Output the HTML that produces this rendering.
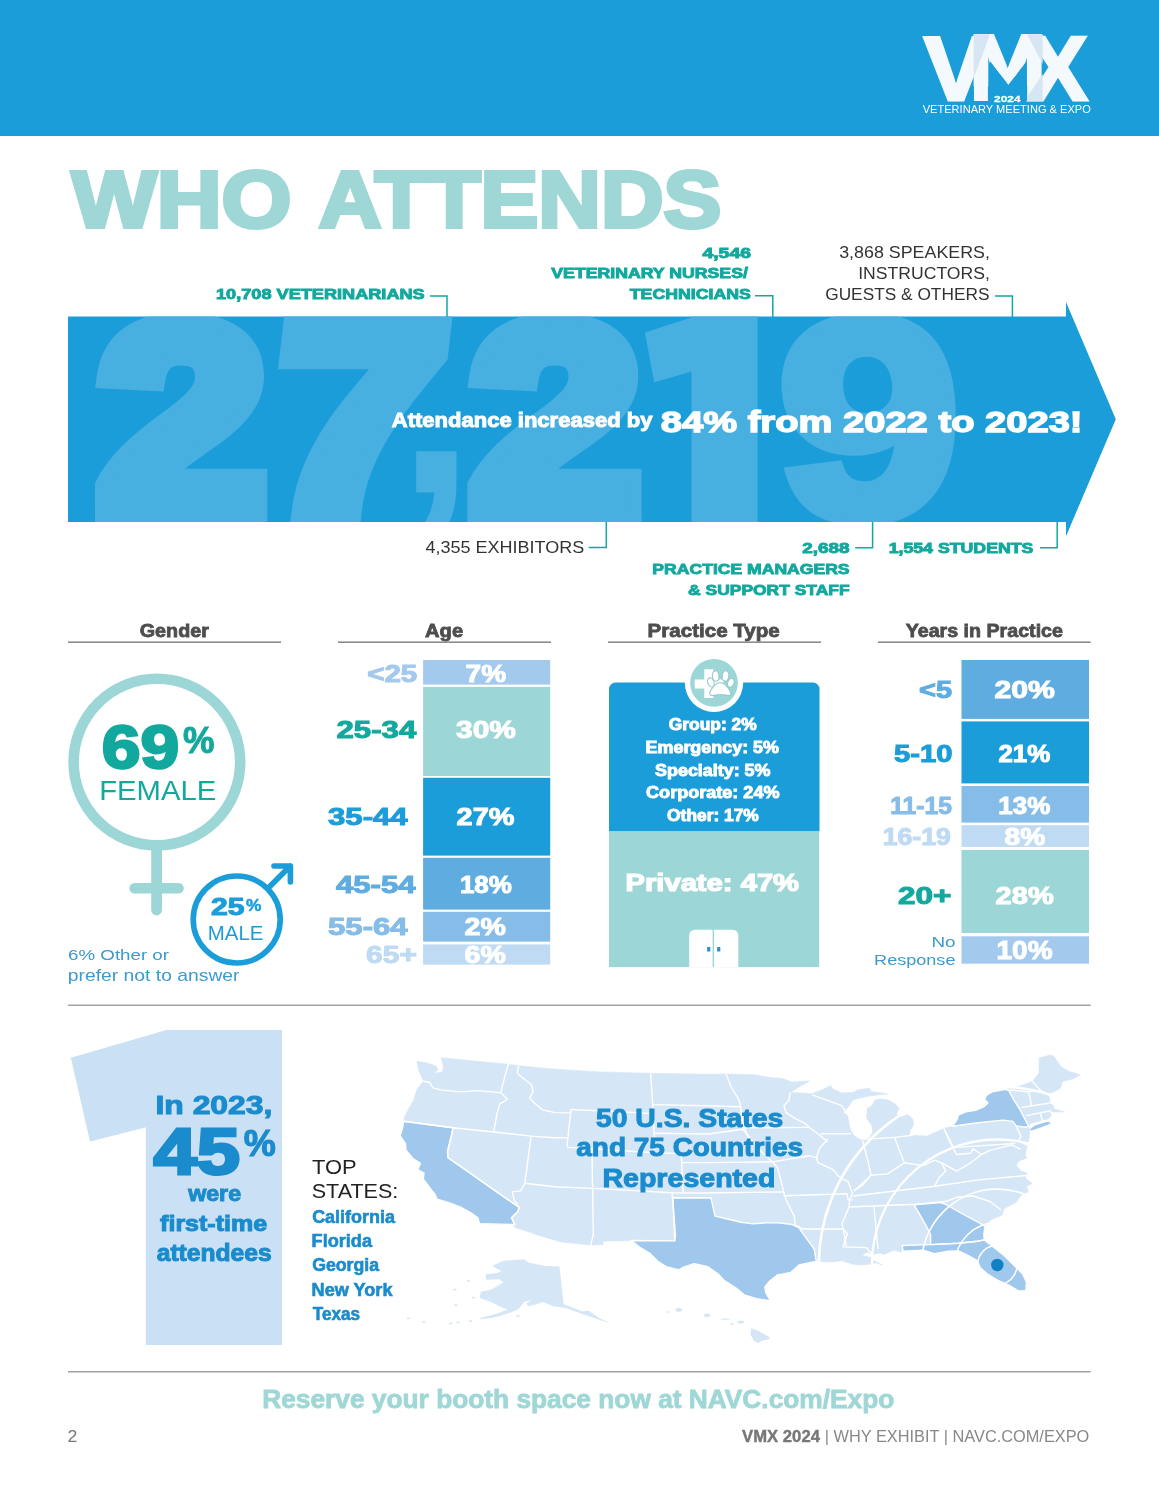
<!DOCTYPE html>
<html lang="en"><head><meta charset="utf-8"><title>VMX 2024 - Who Attends</title>
<style>
html,body{margin:0;padding:0;background:#fff;}
body{width:1159px;height:1500px;overflow:hidden;}
svg{display:block;font-family:"Liberation Sans", Arial, Helvetica, sans-serif;}
text{white-space:pre;}
</style></head><body>
<svg width="1159" height="1500" viewBox="0 0 1159 1500">
<rect x="0.00" y="0.00" width="1159.00" height="136.00" fill="#1A9DD9"/>
<text transform="matrix(1.0514 0 0 1 923.70 99.80)" font-size="91.73" font-weight="700" fill="#F4F9FD" stroke="#F4F9FD" stroke-width="3.00" stroke-linejoin="miter" paint-order="stroke">V</text>
<text transform="matrix(0.9719 0 0 1 1028.20 99.80)" font-size="91.73" font-weight="700" fill="#F4F9FD" stroke="#F4F9FD" stroke-width="3.00" stroke-linejoin="miter" paint-order="stroke">X</text>
<clipPath id="mclip"><polygon points="970,30 1045,30 1045,102 1026.7,102 1026.7,61 1008.4,84.5 990,61 990,102 970,102"/></clipPath>
<g clip-path="url(#mclip)">
<text transform="matrix(1.0007 0 0 1 968.87 100.30)" font-size="93.16" font-weight="700" fill="#F4F9FD" stroke="#F4F9FD" stroke-width="2.00" stroke-linejoin="miter" paint-order="stroke">M</text>
<text transform="matrix(1.3056 0 0 1 968.87 85.00)" font-size="71.40" font-weight="700" fill="#F4F9FD" stroke="#F4F9FD" stroke-width="2.00" stroke-linejoin="miter" paint-order="stroke">M</text>
</g>
<g fill="#D6E6F3"><polygon points="973.7,34.3 990,34.3 973.7,78"/><polygon points="1027,34.3 1042.7,34.3 1042.7,64"/><polygon points="1027,101.2 1042.7,101.2 1042.7,74 1027,97"/></g>
<text transform="matrix(1.2689 0 0 1 994.08 101.65)" font-size="9.39" font-weight="700" fill="#fff" stroke="#fff" stroke-width="0.30" stroke-linejoin="miter" paint-order="stroke">2024</text>
<text transform="matrix(1.0244 0 0 1 922.70 113.30)" font-size="10.81" font-weight="400" fill="#fff">VETERINARY MEETING &amp; EXPO</text>
<text transform="matrix(1.1328 0 0 1 71.80 227.30)" font-size="79.36" font-weight="700" fill="#9ED7D5" stroke="#9ED7D5" stroke-width="4.00" stroke-linejoin="miter" paint-order="stroke">WHO</text>
<text transform="matrix(1.0916 0 0 1 318.65 227.30)" font-size="79.36" font-weight="700" fill="#9ED7D5" stroke="#9ED7D5" stroke-width="4.00" stroke-linejoin="miter" paint-order="stroke">ATTENDS</text>
<text transform="matrix(1.2040 0 0 1 216.02 299.35)" font-size="15.08" font-weight="700" fill="#12A89D" stroke="#12A89D" stroke-width="0.90" stroke-linejoin="miter" paint-order="stroke">10,708 VETERINARIANS</text>
<polyline points="430.0,296.0 447.0,296.0 447.0,317.0" fill="none" stroke="#12A89D" stroke-width="1.5"/>
<text transform="matrix(1.2851 0 0 1 702.45 257.75)" font-size="15.08" font-weight="700" fill="#12A89D" stroke="#12A89D" stroke-width="0.90" stroke-linejoin="miter" paint-order="stroke">4,546</text>
<text transform="matrix(1.2149 0 0 1 551.25 278.35)" font-size="14.57" font-weight="700" fill="#12A89D" stroke="#12A89D" stroke-width="0.90" stroke-linejoin="miter" paint-order="stroke">VETERINARY NURSES/</text>
<text transform="matrix(1.1762 0 0 1 629.75 299.25)" font-size="15.08" font-weight="700" fill="#12A89D" stroke="#12A89D" stroke-width="0.90" stroke-linejoin="miter" paint-order="stroke">TECHNICIANS</text>
<polyline points="755.0,295.7 772.8,295.7 772.8,317.0" fill="none" stroke="#12A89D" stroke-width="1.5"/>
<text transform="matrix(1.1015 0 0 1 839.14 258.20)" font-size="16.21" font-weight="400" fill="#333333">3,868 SPEAKERS,</text>
<text transform="matrix(1.0864 0 0 1 858.22 278.90)" font-size="16.21" font-weight="400" fill="#333333">INSTRUCTORS,</text>
<text transform="matrix(1.0568 0 0 1 825.19 299.60)" font-size="16.36" font-weight="400" fill="#333333">GUESTS &amp; OTHERS</text>
<polyline points="995.0,296.0 1012.4,296.0 1012.4,317.0" fill="none" stroke="#12A89D" stroke-width="1.5"/>
<clipPath id="bandclip"><polygon points="68,316.4 1066,316.4 1066,302.1 1115.8,419.2 1066,536.2 1066,522.1 68,522.1"/></clipPath>
<polygon points="68,316.4 1066,316.4 1066,302.1 1115.8,419.2 1066,536.2 1066,522.1 68,522.1" fill="#1A9DD9"/>
<g clip-path="url(#bandclip)">
<text transform="matrix(1.1280 0 0 1 98.08 511.00)" font-size="267.38" font-weight="700" fill="#48AFE1" stroke="#48AFE1" stroke-width="24.00" stroke-linejoin="miter" paint-order="stroke">2</text>
<text transform="matrix(1.1273 0 -0.116 1 262.08 511.00)" font-size="267.38" font-weight="700" fill="#48AFE1" stroke="#48AFE1" stroke-width="24.00" stroke-linejoin="miter" paint-order="stroke">7</text>
<text transform="matrix(1.0276 0 0 1 396.26 492.60)" font-size="277.76" font-weight="700" fill="#48AFE1">,</text>
<text transform="matrix(1.1407 0 0 1 470.47 511.00)" font-size="267.38" font-weight="700" fill="#48AFE1" stroke="#48AFE1" stroke-width="24.00" stroke-linejoin="miter" paint-order="stroke">2</text>
<text transform="matrix(1.1584 0 0 1 778.31 516.00)" font-size="281.60" font-weight="700" fill="#48AFE1" stroke="#48AFE1" stroke-width="14.00" stroke-linejoin="miter" paint-order="stroke">9</text>
<rect x="691.50" y="311.00" width="66.10" height="212.00" fill="#48AFE1"/>
<clipPath id="oneclip"><rect x="630" y="300" width="62" height="110"/></clipPath>
<g clip-path="url(#oneclip)"><text transform="matrix(3.52376 2.02474 0.86183 4.60568 670.468 584.126)" font-size="100.0" font-weight="700" fill="#48AFE1">1</text></g>
</g>
<text transform="matrix(1.0804 0 0 1 391.76 427.10)" font-size="20.40" font-weight="700" fill="#fff" stroke="#fff" stroke-width="1.00" stroke-linejoin="miter" paint-order="stroke">Attendance increased by</text>
<text transform="matrix(1.2563 0 0 1 660.71 431.90)" font-size="30.37" font-weight="700" fill="#fff" stroke="#fff" stroke-width="1.40" stroke-linejoin="miter" paint-order="stroke">84% from 2022 to 2023!</text>
<text transform="matrix(1.1012 0 0 1 425.52 553.30)" font-size="16.36" font-weight="400" fill="#333333">4,355 EXHIBITORS</text>
<polyline points="588.7,547.6 606.3,547.6 606.3,522.0" fill="none" stroke="#12A89D" stroke-width="1.5"/>
<text transform="matrix(1.2527 0 0 1 802.36 552.85)" font-size="15.08" font-weight="700" fill="#12A89D" stroke="#12A89D" stroke-width="0.90" stroke-linejoin="miter" paint-order="stroke">2,688</text>
<text transform="matrix(1.1550 0 0 1 652.35 573.75)" font-size="15.22" font-weight="700" fill="#12A89D" stroke="#12A89D" stroke-width="0.90" stroke-linejoin="miter" paint-order="stroke">PRACTICE MANAGERS</text>
<text transform="matrix(1.1578 0 0 1 688.10 594.55)" font-size="15.08" font-weight="700" fill="#12A89D" stroke="#12A89D" stroke-width="0.90" stroke-linejoin="miter" paint-order="stroke">&amp; SUPPORT STAFF</text>
<polyline points="855.2,547.7 872.6,547.7 872.6,522.0" fill="none" stroke="#12A89D" stroke-width="1.5"/>
<text transform="matrix(1.1747 0 0 1 888.64 552.85)" font-size="15.08" font-weight="700" fill="#12A89D" stroke="#12A89D" stroke-width="0.90" stroke-linejoin="miter" paint-order="stroke">1,554 STUDENTS</text>
<polyline points="1040.0,547.7 1057.2,547.7 1057.2,522.0" fill="none" stroke="#12A89D" stroke-width="1.5"/>
<text transform="matrix(1.0442 0 0 1 139.78 636.60)" font-size="18.90" font-weight="700" fill="#4D4D4F" stroke="#4D4D4F" stroke-width="0.80" stroke-linejoin="miter" paint-order="stroke">Gender</text>
<rect x="68.00" y="641.40" width="213.00" height="1.60" fill="#8c8c8c"/>
<text transform="matrix(1.0647 0 0 1 425.09 636.60)" font-size="18.90" font-weight="700" fill="#4D4D4F" stroke="#4D4D4F" stroke-width="0.80" stroke-linejoin="miter" paint-order="stroke">Age</text>
<rect x="338.00" y="641.40" width="213.00" height="1.60" fill="#8c8c8c"/>
<text transform="matrix(1.0896 0 0 1 647.51 636.60)" font-size="18.90" font-weight="700" fill="#4D4D4F" stroke="#4D4D4F" stroke-width="0.80" stroke-linejoin="miter" paint-order="stroke">Practice Type</text>
<rect x="608.00" y="641.40" width="213.00" height="1.60" fill="#8c8c8c"/>
<text transform="matrix(1.0403 0 0 1 905.69 636.60)" font-size="18.90" font-weight="700" fill="#4D4D4F" stroke="#4D4D4F" stroke-width="0.80" stroke-linejoin="miter" paint-order="stroke">Years in Practice</text>
<rect x="878.00" y="641.40" width="212.70" height="1.60" fill="#8c8c8c"/>
<circle cx="156.9" cy="762.1" r="83.3" fill="none" stroke="#9DD6D6" stroke-width="10.6"/>
<line x1="156.6" y1="848" x2="156.6" y2="910" stroke="#9DD6D6" stroke-width="10.8" stroke-linecap="round"/>
<line x1="134.6" y1="888.2" x2="178.6" y2="888.2" stroke="#9DD6D6" stroke-width="10.4" stroke-linecap="round"/>
<text transform="matrix(1.1369 0 0 1 101.77 767.65)" font-size="61.30" font-weight="700" fill="#12A89D" stroke="#12A89D" stroke-width="2.50" stroke-linejoin="miter" paint-order="stroke">69</text>
<text transform="matrix(0.9493 0 0 1 182.95 753.00)" font-size="37.26" font-weight="700" fill="#12A89D" stroke="#12A89D" stroke-width="1.00" stroke-linejoin="miter" paint-order="stroke">%</text>
<text transform="matrix(1.0823 0 0 1 99.22 800.30)" font-size="27.02" font-weight="400" fill="#12A89D">FEMALE</text>
<circle cx="236.7" cy="919.5" r="43.5" fill="#fff" stroke="#1A9DD9" stroke-width="5.6"/>
<path d="M268.5 887.7 L290.2 866 M274 866 H290.4 V882" fill="none" stroke="#1A9DD9" stroke-width="5.6" stroke-linejoin="round" stroke-linecap="round"/>
<text transform="matrix(1.2641 0 0 1 211.06 915.30)" font-size="23.89" font-weight="700" fill="#1A9DD9" stroke="#1A9DD9" stroke-width="1.00" stroke-linejoin="miter" paint-order="stroke">25</text>
<text transform="matrix(1.0420 0 0 1 245.98 910.55)" font-size="16.64" font-weight="700" fill="#1A9DD9" stroke="#1A9DD9" stroke-width="0.50" stroke-linejoin="miter" paint-order="stroke">%</text>
<text transform="matrix(1.0489 0 0 1 207.80 939.70)" font-size="19.48" font-weight="400" fill="#1A9DD9">MALE</text>
<text transform="matrix(1.2065 0 0 1 68.12 959.70)" font-size="15.52" font-weight="400" fill="#3E99CC">6% Other or</text>
<text transform="matrix(1.1637 0 0 1 67.79 980.60)" font-size="16.60" font-weight="400" fill="#3E99CC">prefer not to answer</text>
<rect x="423.10" y="660.00" width="127.10" height="24.60" fill="#A3C9EC"/>
<text transform="matrix(1.2063 0 0 1 367.18 681.50)" font-size="24.46" font-weight="700" fill="#A3C9EC" stroke="#A3C9EC" stroke-width="1.00" stroke-linejoin="miter" paint-order="stroke">&lt;25</text>
<text transform="matrix(1.1476 0 0 1 465.62 681.50)" font-size="24.46" font-weight="700" fill="#fff" stroke="#fff" stroke-width="1.00" stroke-linejoin="miter" paint-order="stroke">7%</text>
<rect x="423.10" y="686.90" width="127.10" height="89.10" fill="#9DD6D6"/>
<text transform="matrix(1.2826 0 0 1 336.53 738.10)" font-size="24.32" font-weight="700" fill="#12A89D" stroke="#12A89D" stroke-width="1.00" stroke-linejoin="miter" paint-order="stroke">25-34</text>
<text transform="matrix(1.2304 0 0 1 456.03 738.10)" font-size="24.32" font-weight="700" fill="#fff" stroke="#fff" stroke-width="1.00" stroke-linejoin="miter" paint-order="stroke">30%</text>
<rect x="423.10" y="777.80" width="127.10" height="77.80" fill="#1A9DD9"/>
<text transform="matrix(1.2811 0 0 1 328.01 824.90)" font-size="24.32" font-weight="700" fill="#1A9DD9" stroke="#1A9DD9" stroke-width="1.00" stroke-linejoin="miter" paint-order="stroke">35-44</text>
<text transform="matrix(1.1877 0 0 1 456.60 824.90)" font-size="24.32" font-weight="700" fill="#fff" stroke="#fff" stroke-width="1.00" stroke-linejoin="miter" paint-order="stroke">27%</text>
<rect x="423.10" y="857.80" width="127.10" height="51.80" fill="#5FACE0"/>
<text transform="matrix(1.2814 0 0 1 335.90 892.90)" font-size="24.32" font-weight="700" fill="#5FACE0" stroke="#5FACE0" stroke-width="1.00" stroke-linejoin="miter" paint-order="stroke">45-54</text>
<text transform="matrix(1.0681 0 0 1 459.88 892.90)" font-size="24.32" font-weight="700" fill="#fff" stroke="#fff" stroke-width="1.00" stroke-linejoin="miter" paint-order="stroke">18%</text>
<rect x="423.10" y="911.80" width="127.10" height="29.80" fill="#85BCE8"/>
<text transform="matrix(1.2887 0 0 1 328.01 934.50)" font-size="24.18" font-weight="700" fill="#85BCE8" stroke="#85BCE8" stroke-width="1.00" stroke-linejoin="miter" paint-order="stroke">55-64</text>
<text transform="matrix(1.1818 0 0 1 464.61 934.50)" font-size="24.18" font-weight="700" fill="#fff" stroke="#fff" stroke-width="1.00" stroke-linejoin="miter" paint-order="stroke">2%</text>
<rect x="423.10" y="944.40" width="127.10" height="20.20" fill="#BFDAF3"/>
<text transform="matrix(1.2621 0 0 1 366.06 963.20)" font-size="23.75" font-weight="700" fill="#BFDAF3" stroke="#BFDAF3" stroke-width="1.00" stroke-linejoin="miter" paint-order="stroke">65+</text>
<text transform="matrix(1.2030 0 0 1 464.61 963.20)" font-size="23.75" font-weight="700" fill="#fff" stroke="#fff" stroke-width="1.00" stroke-linejoin="miter" paint-order="stroke">6%</text>
<path d="M609 831.5 V689 a6.5 6.5 0 0 1 6.5 -6.5 H813 a6.5 6.5 0 0 1 6.5 6.5 V831.5 Z" fill="#1A9DD9"/>
<rect x="609.00" y="831.30" width="210.20" height="135.80" fill="#9DD6D6"/>
<circle cx="714" cy="682.8" r="29.2" fill="#fff"/><circle cx="714" cy="682.8" r="23.9" fill="#9DD6D6"/>
<path d="M704.3 669.3 h9.2 v10.3 h9.8 v8.9 h-9.8 v9.6 h-9.2 v-9.6 h-9.6 v-8.9 h9.6 z" fill="#fff"/>
<g fill="#fff" stroke="#93C9CA" stroke-width="1.1"><path d="M720.2 682.8 C723 682.8 725.6 684.6 727.3 687 C729 689.4 730.9 691 730.9 693 C730.9 695 729.6 695.8 728 695.6 C725.6 695.3 723.4 694.5 720.4 694.5 C717.4 694.5 715.2 695.3 712.8 695.6 C711.2 695.8 709.7 695 709.7 693 C709.7 691 711.5 689.4 713.2 687 C714.9 684.6 717.4 682.8 720.2 682.8 Z"/><ellipse cx="710.9" cy="682.4" rx="3.1" ry="4.8" transform="rotate(-20 710.9 682.4)"/><ellipse cx="715.7" cy="676" rx="3.3" ry="5.2" transform="rotate(-8 715.7 676)"/><ellipse cx="725.5" cy="676" rx="3.3" ry="5.2" transform="rotate(8 725.5 676)"/><ellipse cx="730.8" cy="682.9" rx="3.1" ry="4.6" transform="rotate(20 730.8 682.9)"/></g>
<text transform="matrix(1.1073 0 0 1 668.81 730.35)" font-size="15.70" font-weight="700" fill="#fff" stroke="#fff" stroke-width="0.90" stroke-linejoin="miter" paint-order="stroke">Group: 2%</text>
<text transform="matrix(1.1424 0 0 1 645.53 753.15)" font-size="15.70" font-weight="700" fill="#fff" stroke="#fff" stroke-width="0.90" stroke-linejoin="miter" paint-order="stroke">Emergency: 5%</text>
<text transform="matrix(1.1414 0 0 1 655.07 775.65)" font-size="15.70" font-weight="700" fill="#fff" stroke="#fff" stroke-width="0.90" stroke-linejoin="miter" paint-order="stroke">Specialty: 5%</text>
<text transform="matrix(1.1507 0 0 1 646.09 798.45)" font-size="15.70" font-weight="700" fill="#fff" stroke="#fff" stroke-width="0.90" stroke-linejoin="miter" paint-order="stroke">Corporate: 24%</text>
<text transform="matrix(1.1062 0 0 1 667.11 821.05)" font-size="15.70" font-weight="700" fill="#fff" stroke="#fff" stroke-width="0.90" stroke-linejoin="miter" paint-order="stroke">Other: 17%</text>
<text transform="matrix(1.2321 0 0 1 625.48 891.20)" font-size="23.69" font-weight="700" fill="#fff" stroke="#fff" stroke-width="1.20" stroke-linejoin="miter" paint-order="stroke">Private: 47%</text>
<path d="M689.2 967.1 V935.2 a5.5 5.5 0 0 1 5.5 -5.5 H732.8 a5.5 5.5 0 0 1 5.5 5.5 V967.1 Z" fill="#fff"/>
<rect x="712.60" y="929.70" width="1.50" height="37.40" fill="#9DD6D6"/>
<rect x="707.10" y="947.00" width="3.20" height="4.50" fill="#2E8FD0"/>
<rect x="717.10" y="947.00" width="3.20" height="4.50" fill="#2E8FD0"/>
<rect x="961.50" y="660.00" width="127.50" height="58.90" fill="#5FACE0"/>
<text transform="matrix(1.2196 0 0 1 918.99 698.00)" font-size="23.75" font-weight="700" fill="#5FACE0" stroke="#5FACE0" stroke-width="1.00" stroke-linejoin="miter" paint-order="stroke">&lt;5</text>
<text transform="matrix(1.2721 0 0 1 994.46 698.00)" font-size="23.75" font-weight="700" fill="#fff" stroke="#fff" stroke-width="1.00" stroke-linejoin="miter" paint-order="stroke">20%</text>
<rect x="961.50" y="721.40" width="127.50" height="62.00" fill="#1A9DD9"/>
<text transform="matrix(1.2293 0 0 1 894.04 761.90)" font-size="23.75" font-weight="700" fill="#1A9DD9" stroke="#1A9DD9" stroke-width="1.00" stroke-linejoin="miter" paint-order="stroke">5-10</text>
<text transform="matrix(1.0913 0 0 1 998.39 761.90)" font-size="23.75" font-weight="700" fill="#fff" stroke="#fff" stroke-width="1.00" stroke-linejoin="miter" paint-order="stroke">21%</text>
<rect x="961.50" y="786.00" width="127.50" height="36.60" fill="#85BCE8"/>
<text transform="matrix(1.0190 0 0 1 890.26 813.50)" font-size="24.18" font-weight="700" fill="#85BCE8" stroke="#85BCE8" stroke-width="1.00" stroke-linejoin="miter" paint-order="stroke">11-15</text>
<text transform="matrix(1.0744 0 0 1 998.28 813.50)" font-size="24.18" font-weight="700" fill="#fff" stroke="#fff" stroke-width="1.00" stroke-linejoin="miter" paint-order="stroke">13%</text>
<rect x="961.50" y="825.20" width="127.50" height="21.70" fill="#BFDAF3"/>
<text transform="matrix(1.1508 0 0 1 882.63 844.50)" font-size="23.18" font-weight="700" fill="#BFDAF3" stroke="#BFDAF3" stroke-width="1.00" stroke-linejoin="miter" paint-order="stroke">16-19</text>
<text transform="matrix(1.2141 0 0 1 1004.62 844.50)" font-size="23.18" font-weight="700" fill="#fff" stroke="#fff" stroke-width="1.00" stroke-linejoin="miter" paint-order="stroke">8%</text>
<rect x="961.50" y="850.00" width="127.50" height="83.00" fill="#9DD6D6"/>
<text transform="matrix(1.3484 0 0 1 898.02 903.50)" font-size="23.32" font-weight="700" fill="#12A89D" stroke="#12A89D" stroke-width="1.00" stroke-linejoin="miter" paint-order="stroke">20+</text>
<text transform="matrix(1.2450 0 0 1 995.59 903.50)" font-size="23.32" font-weight="700" fill="#fff" stroke="#fff" stroke-width="1.00" stroke-linejoin="miter" paint-order="stroke">28%</text>
<rect x="961.50" y="936.30" width="127.50" height="27.40" fill="#A3C9EC"/>
<text transform="matrix(1.1230 0 0 1 996.55 958.80)" font-size="24.89" font-weight="700" fill="#fff" stroke="#fff" stroke-width="1.00" stroke-linejoin="miter" paint-order="stroke">10%</text>
<text transform="matrix(1.3412 0 0 1 931.42 947.40)" font-size="14.08" font-weight="400" fill="#3E99CC">No</text>
<text transform="matrix(1.2474 0 0 1 874.09 964.90)" font-size="14.50" font-weight="400" fill="#3E99CC">Response</text>
<rect x="68.00" y="1004.60" width="1022.70" height="1.20" fill="#8c8c8c"/>
<rect x="68.00" y="1371.20" width="1022.70" height="1.20" fill="#8c8c8c"/>
<rect x="145.80" y="1036.00" width="136.20" height="309.00" fill="#CAE0F5"/>
<rect x="166.00" y="1030.00" width="116.00" height="6.50" fill="#CAE0F5"/>
<clipPath id="flagclip"><rect x="60" y="1020" width="107.5" height="140"/></clipPath>
<g clip-path="url(#flagclip)"><text transform="matrix(6.70648 3.43676 1.77926 7.77499 127.471 1482.179)" font-size="100.0" font-weight="700" fill="#CAE0F5">1</text></g>
<text transform="matrix(1.2726 0 0 1 155.51 1113.50)" font-size="25.03" font-weight="700" fill="#1A8BCC" stroke="#1A8BCC" stroke-width="1.00" stroke-linejoin="miter" paint-order="stroke">In 2023,</text>
<text transform="matrix(1.1866 0 0 1 153.60 1173.80)" font-size="65.56" font-weight="700" fill="#1A8BCC" stroke="#1A8BCC" stroke-width="3.00" stroke-linejoin="miter" paint-order="stroke">45</text>
<text transform="matrix(0.9607 0 0 1 243.84 1156.00)" font-size="37.55" font-weight="700" fill="#1A8BCC" stroke="#1A8BCC" stroke-width="1.20" stroke-linejoin="miter" paint-order="stroke">%</text>
<text transform="matrix(1.0493 0 0 1 188.16 1201.00)" font-size="22.13" font-weight="700" fill="#1A8BCC" stroke="#1A8BCC" stroke-width="1.00" stroke-linejoin="miter" paint-order="stroke">were</text>
<text transform="matrix(1.1339 0 0 1 160.11 1231.30)" font-size="22.06" font-weight="700" fill="#1A8BCC" stroke="#1A8BCC" stroke-width="1.00" stroke-linejoin="miter" paint-order="stroke">first-time</text>
<text transform="matrix(1.0253 0 0 1 156.72 1261.00)" font-size="24.00" font-weight="700" fill="#1A8BCC" stroke="#1A8BCC" stroke-width="1.00" stroke-linejoin="miter" paint-order="stroke">attendees</text>
<text transform="matrix(1.0556 0 0 1 312.06 1173.80)" font-size="20.76" font-weight="400" fill="#222">TOP</text>
<text transform="matrix(1.0380 0 0 1 311.73 1197.60)" font-size="20.76" font-weight="400" fill="#222">STATES:</text>
<text transform="matrix(1.0207 0 0 1 312.14 1222.70)" font-size="17.60" font-weight="700" fill="#1A8BCC" stroke="#1A8BCC" stroke-width="0.60" stroke-linejoin="miter" paint-order="stroke">California</text>
<text transform="matrix(1.0298 0 0 1 311.57 1246.90)" font-size="17.60" font-weight="700" fill="#1A8BCC" stroke="#1A8BCC" stroke-width="0.60" stroke-linejoin="miter" paint-order="stroke">Florida</text>
<text transform="matrix(1.0065 0 0 1 312.15 1271.30)" font-size="17.60" font-weight="700" fill="#1A8BCC" stroke="#1A8BCC" stroke-width="0.60" stroke-linejoin="miter" paint-order="stroke">Georgia</text>
<text transform="matrix(1.0294 0 0 1 311.57 1295.70)" font-size="17.60" font-weight="700" fill="#1A8BCC" stroke="#1A8BCC" stroke-width="0.60" stroke-linejoin="miter" paint-order="stroke">New York</text>
<text transform="matrix(0.9753 0 0 1 312.70 1320.10)" font-size="17.60" font-weight="700" fill="#1A8BCC" stroke="#1A8BCC" stroke-width="0.60" stroke-linejoin="miter" paint-order="stroke">Texas</text>
<g id="usmap">
<polygon points="417.1,1061.3 426.8,1062.9 435.7,1065.7 438.1,1069.6 434.3,1073.3 442.6,1071.9 443.3,1065.7 441.2,1057.7 508.2,1064.3 518.6,1065.7 555.0,1069.2 600.2,1071.9 650.6,1073.3 705.0,1074.3 726.1,1074.0 754.4,1074.7 769.5,1077.4 783.3,1078.8 791.6,1082.0 809.6,1080.9 799.9,1086.4 790.3,1092.6 801.8,1093.1 811.4,1093.8 822.5,1089.7 830.7,1085.5 832.8,1089.0 841.8,1092.9 852.8,1092.4 858.3,1089.7 869.4,1088.3 871.5,1091.5 887.3,1093.8 872.2,1095.6 859.7,1098.0 852.8,1100.0 849.4,1105.6 843.2,1112.2 847.3,1115.2 848.7,1120.7 850.1,1129.0 854.2,1135.9 861.1,1140.1 869.4,1138.0 872.8,1131.8 872.2,1126.3 866.6,1118.0 867.3,1108.3 872.2,1105.6 874.9,1100.0 880.4,1098.9 888.7,1100.0 895.6,1104.2 899.1,1108.3 896.3,1114.5 902.5,1116.6 908.0,1114.5 912.9,1119.4 913.6,1124.9 910.1,1130.4 909.4,1135.2 927.5,1136.1 944.0,1128.2 952.1,1126.3 956.9,1120.1 958.3,1115.2 965.9,1111.8 975.6,1110.4 984.5,1106.3 988.0,1102.8 984.5,1099.4 986.6,1095.2 992.1,1091.8 1005.9,1089.4 1019.7,1086.2 1032.2,1081.4 1039.1,1073.1 1039.1,1057.9 1050.1,1054.9 1053.6,1055.9 1060.5,1066.2 1068.0,1071.1 1080.5,1074.8 1073.6,1078.7 1062.5,1081.4 1060.5,1088.3 1051.5,1093.1 1048.7,1095.2 1050.1,1100.7 1048.7,1103.2 1052.9,1104.9 1054.2,1109.0 1064.6,1111.8 1054.2,1112.1 1050.1,1110.7 1049.4,1112.1 1051.5,1115.2 1048.7,1118.7 1030.8,1123.5 1028.7,1126.3 1029.7,1133.8 1028.7,1140.7 1027.3,1145.5 1025.3,1154.5 1026.6,1158.0 1018.3,1161.4 1016.3,1165.6 1021.1,1171.1 1027.3,1173.1 1025.3,1178.0 1032.2,1183.5 1026.6,1186.3 1028.3,1191.8 1021.1,1195.2 1015.6,1202.8 1004.5,1208.3 1001.8,1215.3 990.7,1219.9 985.0,1226.4 983.8,1234.7 984.4,1239.9 993.7,1247.1 1004.1,1255.4 1014.5,1265.8 1022.7,1274.0 1026.5,1282.3 1025.8,1290.6 1018.6,1291.0 1008.2,1284.8 997.9,1280.3 987.5,1274.0 980.3,1267.8 977.2,1260.6 967.9,1255.4 958.5,1250.9 948.2,1251.3 934.7,1253.8 923.3,1250.2 903.0,1251.3 899.8,1252.0 894.2,1250.1 888.7,1252.4 883.2,1254.5 880.4,1253.1 872.2,1254.5 867.3,1252.0 861.8,1255.2 870.8,1257.5 872.2,1260.0 882.5,1264.9 874.9,1262.8 869.4,1264.2 859.7,1264.9 852.8,1264.2 841.8,1260.7 832.1,1262.1 816.2,1261.4 814.2,1261.7 799.0,1264.9 790.7,1272.5 776.9,1275.2 778.2,1274.5 770.0,1280.7 764.8,1286.9 765.8,1292.7 770.6,1301.0 755.5,1298.5 744.1,1294.8 736.8,1288.5 724.4,1280.7 718.2,1274.0 707.8,1266.8 694.4,1263.7 684.0,1266.8 678.8,1269.9 666.4,1266.8 658.1,1261.6 649.8,1253.3 639.5,1247.1 631.2,1240.5 603.1,1241.3 603.1,1244.6 590.7,1245.1 560.7,1241.9 540.0,1235.7 515.1,1227.5 513.5,1224.8 479.5,1223.6 477.8,1217.8 472.3,1213.7 461.3,1207.5 448.8,1202.6 437.1,1199.2 435.0,1194.4 429.5,1187.5 423.3,1179.2 424.0,1173.0 417.8,1169.5 420.5,1163.3 412.9,1158.5 406.0,1150.2 405.4,1143.3 400.5,1136.4 400.2,1136.1 402.6,1127.8 403.6,1121.2 404.7,1116.8 408.8,1108.5 413.6,1100.2 417.1,1089.2 423.3,1081.2 421.9,1077.4 418.5,1069.8" fill="#D5E6F6" stroke="#D5E6F6" stroke-width="0.6" stroke-linejoin="round"/>
<polygon points="492.2,1265.9 503.5,1260.7 524.2,1259.3 528.4,1262.4 545.0,1265.9 559.5,1266.5 563.6,1304.2 571.9,1307.3 582.2,1311.4 588.4,1310.4 598.8,1317.7 612.3,1324.5 609.2,1323.2 594.7,1318.3 582.2,1314.1 565.7,1307.9 553.2,1306.3 542.9,1302.1 536.7,1304.2 528.4,1306.3 526.3,1303.2 532.5,1300.1 524.2,1302.1 518.0,1309.4 507.7,1313.5 493.2,1317.7 480.8,1319.3 479.7,1318.3 497.3,1313.5 507.7,1309.4 501.5,1307.3 491.1,1302.1 479.7,1298.0 480.8,1291.8 491.1,1289.7 503.5,1282.5 499.4,1279.3 485.9,1279.8 485.9,1274.2 497.3,1273.1 501.5,1271.1" fill="#D5E6F6"/>
<ellipse cx="468.3" cy="1280.8" rx="1.8" ry="0.9" fill="#D5E6F6"/>
<ellipse cx="454.9" cy="1289.7" rx="1.8" ry="0.9" fill="#D5E6F6"/>
<ellipse cx="473.5" cy="1297.6" rx="1.8" ry="0.9" fill="#D5E6F6"/>
<ellipse cx="455.9" cy="1305.2" rx="1.8" ry="0.9" fill="#D5E6F6"/>
<ellipse cx="458.0" cy="1322.4" rx="1.8" ry="0.9" fill="#D5E6F6"/>
<ellipse cx="470.4" cy="1321.2" rx="1.8" ry="0.9" fill="#D5E6F6"/>
<ellipse cx="450.7" cy="1323.5" rx="1.8" ry="0.9" fill="#D5E6F6"/>
<ellipse cx="518.0" cy="1316.2" rx="1.8" ry="0.9" fill="#D5E6F6"/>
<ellipse cx="423.8" cy="1321.8" rx="1.8" ry="0.9" fill="#D5E6F6"/>
<ellipse cx="408.3" cy="1318.3" rx="1.8" ry="0.9" fill="#D5E6F6"/>
<polygon points="751.1,1328.3 757.3,1330.4 769.8,1337.3 768.4,1339.4 761.5,1340.7 758.7,1343.2 753.9,1340.7 750.4,1334.5" fill="#D5E6F6"/>
<ellipse cx="678.7" cy="1309.7" rx="3.2" ry="2.0" fill="#D5E6F6"/>
<ellipse cx="667.6" cy="1312.0" rx="1.3" ry="1.0" fill="#D5E6F6"/>
<ellipse cx="707.2" cy="1315.3" rx="3.4" ry="1.8" fill="#D5E6F6"/>
<ellipse cx="725.2" cy="1319.2" rx="4.5" ry="0.6" fill="#D5E6F6"/>
<ellipse cx="740.8" cy="1322.1" rx="3.2" ry="1.5" fill="#D5E6F6"/>
<ellipse cx="732.1" cy="1324.2" rx="1.6" ry="0.9" fill="#D5E6F6"/>
<polygon points="403.6,1121.2 402.6,1127.8 400.2,1136.1 400.5,1136.4 405.4,1143.3 406.0,1150.2 412.9,1158.5 420.5,1163.3 417.8,1169.5 424.0,1173.0 423.3,1179.2 429.5,1187.5 435.0,1194.4 437.1,1199.2 448.8,1202.6 461.3,1207.5 472.3,1213.7 477.8,1217.8 479.5,1223.6 514.8,1224.5 511.6,1217.8 517.9,1211.6 519.2,1207.5 448.1,1157.8 447.5,1151.6 451.6,1135.0 453.0,1127.8 403.6,1121.2" fill="#A0C8EC"/>
<polygon points="631.2,1240.5 674.7,1240.9 673.0,1197.8 710.9,1197.8 715.1,1216.1 728.5,1219.2 741.0,1222.3 753.4,1223.9 765.8,1222.9 778.2,1222.9 790.7,1224.3 798.9,1226.4 801.4,1231.6 798.3,1226.2 803.1,1233.8 814.2,1249.0 816.2,1261.4 814.2,1261.7 799.0,1264.9 790.7,1272.5 776.9,1275.2 778.2,1274.5 770.0,1280.7 764.8,1286.9 765.8,1292.7 770.6,1301.0 755.5,1298.5 744.1,1294.8 736.8,1288.5 724.4,1280.7 718.2,1274.0 707.8,1266.8 694.4,1263.7 684.0,1266.8 678.8,1269.9 666.4,1266.8 658.1,1261.6 649.8,1253.3 639.5,1247.1 631.2,1240.5" fill="#A0C8EC"/>
<polygon points="930.6,1244.6 930.6,1234.7 925.4,1224.3 914.0,1204.7 940.9,1202.6 946.1,1204.7 962.7,1214.0 980.3,1223.3 985.0,1226.4 983.8,1234.7 984.4,1239.9 977.2,1241.3 958.5,1243.2 930.6,1244.6" fill="#A0C8EC"/>
<polygon points="984.4,1239.9 993.7,1247.1 1004.1,1255.4 1014.5,1265.8 1022.7,1274.0 1026.5,1282.3 1025.8,1290.6 1018.6,1291.0 1008.2,1284.8 997.9,1280.3 987.5,1274.0 980.3,1267.8 977.2,1260.6 967.9,1255.4 958.5,1250.9 948.2,1251.3 934.7,1253.8 923.3,1250.2 903.0,1251.3 902.2,1245.5 930.6,1244.6 958.5,1243.2 977.2,1241.3 984.4,1239.9" fill="#A0C8EC"/>
<polygon points="952.1,1126.3 956.9,1120.1 958.3,1115.2 965.9,1111.8 975.6,1110.4 984.5,1106.3 988.0,1102.8 984.5,1099.4 986.6,1095.2 992.1,1091.8 1005.9,1089.4 1008.7,1090.4 1014.2,1100.7 1019.7,1109.0 1023.9,1117.3 1028.7,1126.3 1025.3,1127.2 1016.3,1125.9 1012.8,1121.4 1003.2,1120.1 978.3,1122.8 952.1,1126.3" fill="#A0C8EC"/>
<polygon points="1029.4,1129.7 1034.9,1125.6 1047.3,1121.7 1050.8,1122.6 1048.7,1124.5 1034.9,1129.5 1030.8,1130.4" fill="#A0C8EC"/>
<g fill="none" stroke="#fff" stroke-width="1.4" stroke-linejoin="round" stroke-linecap="round">
<polyline points="423.3,1081.2 429.5,1082.3 433.0,1087.8 440.6,1089.9 459.9,1091.9 477.8,1090.6 500.6,1092.6"/>
<polyline points="508.2,1064.3 500.6,1092.6 504.1,1096.1 507.5,1099.5 499.9,1103.7 497.2,1112.6 493.7,1131.7"/>
<polyline points="518.6,1065.7 517.2,1073.3 524.8,1079.5 531.7,1085.0 533.0,1091.9 529.6,1098.1 534.4,1103.0 542.7,1109.9 555.0,1112.6 570.3,1112.9"/>
<polyline points="403.6,1121.2 453.0,1127.8 493.7,1132.0 531.0,1136.1 555.0,1137.8 567.1,1137.8"/>
<polyline points="453.0,1127.8 451.6,1135.0 447.5,1151.6 448.1,1157.8 519.2,1207.5 517.9,1211.6 511.6,1217.8 514.8,1224.5"/>
<polyline points="531.0,1136.1 531.0,1137.1 524.8,1183.3 520.6,1190.9 512.3,1191.9 514.0,1199.9 519.2,1207.5"/>
<polyline points="524.8,1183.3 555.0,1186.8 592.6,1188.4 672.0,1192.7 705.0,1193.0 783.3,1191.9 784.7,1195.7 846.8,1193.7 848.2,1199.9 852.4,1199.9"/>
<polyline points="571.0,1109.6 567.1,1144.9 567.8,1147.4 591.9,1148.8 654.1,1152.7 681.0,1153.6 681.7,1162.6 683.0,1191.9"/>
<polyline points="571.0,1109.6 611.3,1111.3 653.4,1113.6"/>
<polyline points="650.6,1073.3 652.7,1104.4 653.4,1113.6 654.7,1144.9 654.1,1152.7"/>
<polyline points="591.9,1148.8 592.6,1188.4 593.3,1234.9"/>
<polyline points="593.3,1234.9 590.7,1245.1"/>
<polyline points="672.0,1192.7 675.5,1234.9 674.7,1240.9"/>
<polyline points="672.7,1197.8 710.9,1197.8"/>
<polyline points="652.7,1104.6 705.0,1105.7 740.3,1106.7"/>
<polyline points="726.1,1074.0 730.9,1086.4 739.2,1100.2 740.6,1107.1 742.6,1122.3 744.7,1127.8 747.5,1136.1 750.2,1144.9"/>
<polyline points="654.1,1133.3 708.8,1134.0 742.6,1129.2 747.5,1134.7"/>
<polyline points="681.7,1162.6 705.0,1162.6 772.3,1161.9 775.1,1164.7 777.8,1168.1 784.7,1195.7 786.1,1199.9 794.4,1216.4 795.1,1226.1 803.1,1229.0 843.2,1229.0 847.3,1233.8 843.2,1246.9 866.6,1247.6 871.5,1253.8"/>
<polyline points="742.6,1127.8 809.6,1127.4"/>
<polyline points="790.3,1092.6 788.9,1100.2 784.0,1105.7 786.1,1112.6 794.4,1118.2 805.4,1123.7 809.6,1127.8 819.2,1134.7 827.5,1141.6"/>
<polyline points="747.5,1135.0 761.3,1151.6 772.3,1161.9"/>
<polyline points="772.3,1161.9 809.6,1155.7 816.5,1157.8"/>
<polyline points="827.5,1139.1 819.2,1148.8 816.5,1157.8 817.9,1162.6 833.0,1169.5 838.6,1176.4 848.2,1181.9 852.4,1193.0 849.6,1199.9 849.0,1207.0 842.1,1223.6 846.3,1245.7"/>
<polyline points="812.8,1095.2 841.8,1105.6 845.2,1111.1"/>
<polyline points="821.4,1133.8 850.4,1133.8"/>
<polyline points="862.8,1139.4 894.6,1137.4 912.5,1135.2"/>
<polyline points="862.8,1141.3 868.3,1162.8 871.1,1175.3 862.8,1184.9 854.5,1190.4"/>
<polyline points="894.6,1137.4 904.2,1162.8"/>
<polyline points="944.3,1129.7 952.6,1147.6 1014.7,1143.5"/>
<polyline points="854.5,1190.4 871.1,1175.3 887.7,1173.9 904.2,1162.8 923.6,1165.6 934.6,1160.1 941.5,1162.8 945.7,1171.1 938.8,1178.0 934.6,1186.3"/>
<polyline points="853.2,1196.0 934.6,1186.3 978.8,1179.9 1028.5,1175.3"/>
<polyline points="849.0,1207.0 915.3,1204.2 945.7,1201.5 956.7,1197.3 973.3,1196.0 989.8,1201.5 1000.9,1209.8"/>
<polyline points="873.9,1207.0 878.0,1248.4"/>
<polyline points="952.6,1147.6 956.7,1154.5 970.5,1153.2 973.3,1149.0 981.5,1154.5 989.8,1150.4 1011.9,1144.9 1020.2,1149.0"/>
<polyline points="941.5,1162.8 956.7,1171.1 970.5,1162.8 981.5,1154.5"/>
<polyline points="1005.9,1089.4 1008.7,1090.4"/>
<polyline points="1009.4,1090.0 1028.7,1091.8 1040.4,1090.4"/>
<polyline points="1028.7,1091.8 1031.5,1104.9"/>
<polyline points="1032.2,1081.0 1040.4,1090.4 1048.7,1095.2"/>
<polyline points="1021.8,1107.4 1048.7,1103.2"/>
<polyline points="1026.6,1115.6 1050.1,1110.7"/>
<polyline points="1040.4,1113.9 1042.5,1120.8"/>
<polyline points="1016.3,1126.2 1018.3,1131.0 1021.1,1136.6 1018.3,1140.7 1027.3,1145.5"/>
<polyline points="943.8,1128.3 953.5,1147.6"/>
<polygon points="403.6,1121.2 402.6,1127.8 400.2,1136.1 400.5,1136.4 405.4,1143.3 406.0,1150.2 412.9,1158.5 420.5,1163.3 417.8,1169.5 424.0,1173.0 423.3,1179.2 429.5,1187.5 435.0,1194.4 437.1,1199.2 448.8,1202.6 461.3,1207.5 472.3,1213.7 477.8,1217.8 479.5,1223.6 514.8,1224.5 511.6,1217.8 517.9,1211.6 519.2,1207.5 448.1,1157.8 447.5,1151.6 451.6,1135.0 453.0,1127.8 403.6,1121.2"/>
<polygon points="631.2,1240.5 674.7,1240.9 673.0,1197.8 710.9,1197.8 715.1,1216.1 728.5,1219.2 741.0,1222.3 753.4,1223.9 765.8,1222.9 778.2,1222.9 790.7,1224.3 798.9,1226.4 801.4,1231.6 798.3,1226.2 803.1,1233.8 814.2,1249.0 816.2,1261.4 814.2,1261.7 799.0,1264.9 790.7,1272.5 776.9,1275.2 778.2,1274.5 770.0,1280.7 764.8,1286.9 765.8,1292.7 770.6,1301.0 755.5,1298.5 744.1,1294.8 736.8,1288.5 724.4,1280.7 718.2,1274.0 707.8,1266.8 694.4,1263.7 684.0,1266.8 678.8,1269.9 666.4,1266.8 658.1,1261.6 649.8,1253.3 639.5,1247.1 631.2,1240.5"/>
<polygon points="930.6,1244.6 930.6,1234.7 925.4,1224.3 914.0,1204.7 940.9,1202.6 946.1,1204.7 962.7,1214.0 980.3,1223.3 985.0,1226.4 983.8,1234.7 984.4,1239.9 977.2,1241.3 958.5,1243.2 930.6,1244.6"/>
<polygon points="984.4,1239.9 993.7,1247.1 1004.1,1255.4 1014.5,1265.8 1022.7,1274.0 1026.5,1282.3 1025.8,1290.6 1018.6,1291.0 1008.2,1284.8 997.9,1280.3 987.5,1274.0 980.3,1267.8 977.2,1260.6 967.9,1255.4 958.5,1250.9 948.2,1251.3 934.7,1253.8 923.3,1250.2 903.0,1251.3 902.2,1245.5 930.6,1244.6 958.5,1243.2 977.2,1241.3 984.4,1239.9"/>
<polygon points="952.1,1126.3 956.9,1120.1 958.3,1115.2 965.9,1111.8 975.6,1110.4 984.5,1106.3 988.0,1102.8 984.5,1099.4 986.6,1095.2 992.1,1091.8 1005.9,1089.4 1008.7,1090.4 1014.2,1100.7 1019.7,1109.0 1023.9,1117.3 1028.7,1126.3 1025.3,1127.2 1016.3,1125.9 1012.8,1121.4 1003.2,1120.1 978.3,1122.8 952.1,1126.3"/>
</g>
<clipPath id="mapclip"><rect x="780" y="1040" width="320" height="300"/></clipPath>
<g clip-path="url(#mapclip)" fill="none" stroke="#fff">
<circle cx="997.3" cy="1265" r="19.7" stroke-width="1.5"/>
<circle cx="997.3" cy="1265" r="42.4" stroke-width="1.5"/>
<circle cx="997.3" cy="1265" r="75.8" stroke-width="1.8"/>
<circle cx="997.3" cy="1265" r="125.5" stroke-width="2.3"/>
<circle cx="997.3" cy="1265" r="178.5" stroke-width="2.6"/>
</g>
<circle cx="997.3" cy="1265" r="6.2" fill="#1080C4"/>
</g>
<text transform="matrix(1.0886 0 0 1 595.96 1126.70)" font-size="26.03" font-weight="700" fill="#1A8BCC" stroke="#1A8BCC" stroke-width="1.00" stroke-linejoin="miter" paint-order="stroke">50 U.S. States</text>
<text transform="matrix(1.0602 0 0 1 576.26 1156.40)" font-size="26.40" font-weight="700" fill="#1A8BCC" stroke="#1A8BCC" stroke-width="1.00" stroke-linejoin="miter" paint-order="stroke">and 75 Countries</text>
<text transform="matrix(1.0744 0 0 1 602.41 1187.00)" font-size="26.60" font-weight="700" fill="#1A8BCC" stroke="#1A8BCC" stroke-width="1.00" stroke-linejoin="miter" paint-order="stroke">Represented</text>
<text transform="matrix(1.0275 0 0 1 262.26 1408.40)" font-size="25.60" font-weight="700" fill="#9ED7D5" stroke="#9ED7D5" stroke-width="0.80" stroke-linejoin="miter" paint-order="stroke">Reserve your booth space now at NAVC.com/Expo</text>
<text transform="matrix(1.1018 0 0 1 67.47 1442.30)" font-size="16.07" font-weight="400" fill="#777">2</text>
<text transform="matrix(1.0663 0 0 1 742.10 1442.10)" font-size="15.64" font-weight="700" fill="#777" stroke="#777" stroke-width="0.40" stroke-linejoin="miter" paint-order="stroke">VMX 2024</text>
<text transform="matrix(1.0097 0 0 1 824.72 1442.30)" font-size="16.20" font-weight="400" fill="#888">| WHY EXHIBIT | NAVC.COM/EXPO</text>
</svg>
</body></html>
